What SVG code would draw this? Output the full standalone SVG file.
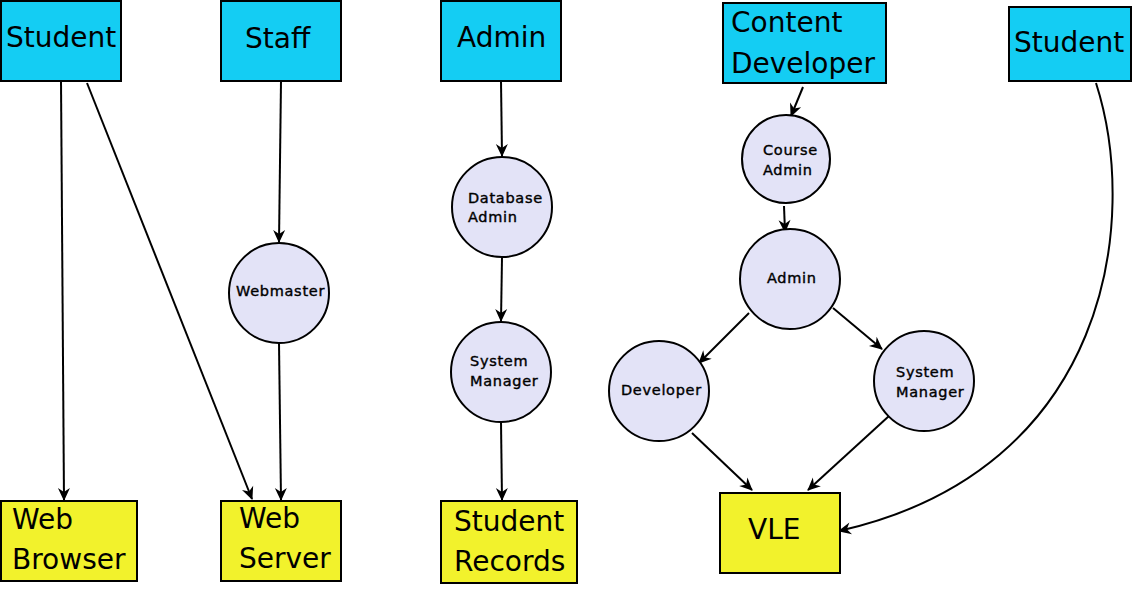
<svg xmlns="http://www.w3.org/2000/svg" width="1132" height="591" viewBox="0 0 1132 591">
<style>
.box{stroke:#000;stroke-width:2}
.actor{fill:#14cdf3}
.sys{fill:#f2f22c}
.role{fill:#e3e3f7;stroke:#000;stroke-width:2}
.big{font-family:"DejaVu Sans",sans-serif;font-size:28px;fill:#000}
.small{font-family:"DejaVu Sans",sans-serif;font-size:14.5px;letter-spacing:0.7px;fill:#000;stroke:#000;stroke-width:0.4px}
.conn path{fill:none;stroke:#000;stroke-width:2;marker-end:url(#arr)}
</style>
<defs>
<marker id="arr" markerUnits="userSpaceOnUse" markerWidth="16" markerHeight="14" viewBox="-13 -7 16 14" refX="0" refY="0" orient="auto">
<path d="M1,0 L-12,-6 L-8,0 L-12,6 Z" fill="#000"/>
</marker>
</defs>
<rect width="1132" height="591" fill="#fff"/>
<g id="connectors" class="conn">
<path d="M61,81 L64,500"/>
<path d="M87,83 L252,499"/>
<path d="M281,81 L279,242"/>
<path d="M279,343 L281,500"/>
<path d="M501,81 L502,156"/>
<path d="M502,257 L501,321"/>
<path d="M501,422 L502,500"/>
<path d="M803,87 L791,116"/>
<path d="M784,206 L785,232"/>
<path d="M749,313 L699,363"/>
<path d="M833,308 L882,349"/>
<path d="M692,433 L752,490"/>
<path d="M889,416 L808,490"/>
<path d="M1096,83 C1140,220 1110,470 839,531"/>
</g>
<g id="student1"><rect class="box actor" x="1" y="1" width="120" height="80"/><text class="big" x="6" y="47">Student</text></g>
<g id="staff"><rect class="box actor" x="221" y="1" width="120" height="80"/><text class="big" x="245" y="48">Staff</text></g>
<g id="admin"><rect class="box actor" x="441" y="1" width="120" height="80"/><text class="big" x="457" y="47">Admin</text></g>
<g id="content-developer"><rect class="box actor" x="723" y="3" width="163" height="80"/><text class="big" x="731" y="32">Content</text><text class="big" x="731" y="73">Developer</text></g>
<g id="student2"><rect class="box actor" x="1009" y="7" width="122" height="74"/><text class="big" x="1014" y="52">Student</text></g>
<g id="web-browser"><rect class="box sys" x="1" y="501" width="136" height="80"/><text class="big" x="12" y="529">Web</text><text class="big" x="12" y="569">Browser</text></g>
<g id="web-server"><rect class="box sys" x="221" y="501" width="120" height="80"/><text class="big" x="239" y="528">Web</text><text class="big" x="239" y="568">Server</text></g>
<g id="student-records"><rect class="box sys" x="441" y="501" width="136" height="82"/><text class="big" x="454" y="531">Student</text><text class="big" x="454" y="571">Records</text></g>
<g id="vle"><rect class="box sys" x="720" y="493" width="120" height="80"/><text class="big" x="748" y="539">VLE</text></g>
<g id="webmaster"><circle class="role" cx="279" cy="293" r="50"/><text class="small" x="236" y="296">Webmaster</text></g>
<g id="database-admin"><circle class="role" cx="502" cy="207" r="50"/><text class="small" x="468" y="203">Database</text><text class="small" x="468" y="222">Admin</text></g>
<g id="system-manager1"><circle class="role" cx="501" cy="372" r="50"/><text class="small" x="470" y="366">System</text><text class="small" x="470" y="386">Manager</text></g>
<g id="course-admin"><circle class="role" cx="786" cy="159" r="44"/><text class="small" x="763" y="155">Course</text><text class="small" x="763" y="175">Admin</text></g>
<g id="admin-role"><circle class="role" cx="790" cy="279" r="50"/><text class="small" x="767" y="283">Admin</text></g>
<g id="developer"><circle class="role" cx="659" cy="391" r="50"/><text class="small" x="621" y="395">Developer</text></g>
<g id="system-manager2"><circle class="role" cx="924" cy="381" r="50"/><text class="small" x="896" y="377">System</text><text class="small" x="896" y="397">Manager</text></g>
</svg>
